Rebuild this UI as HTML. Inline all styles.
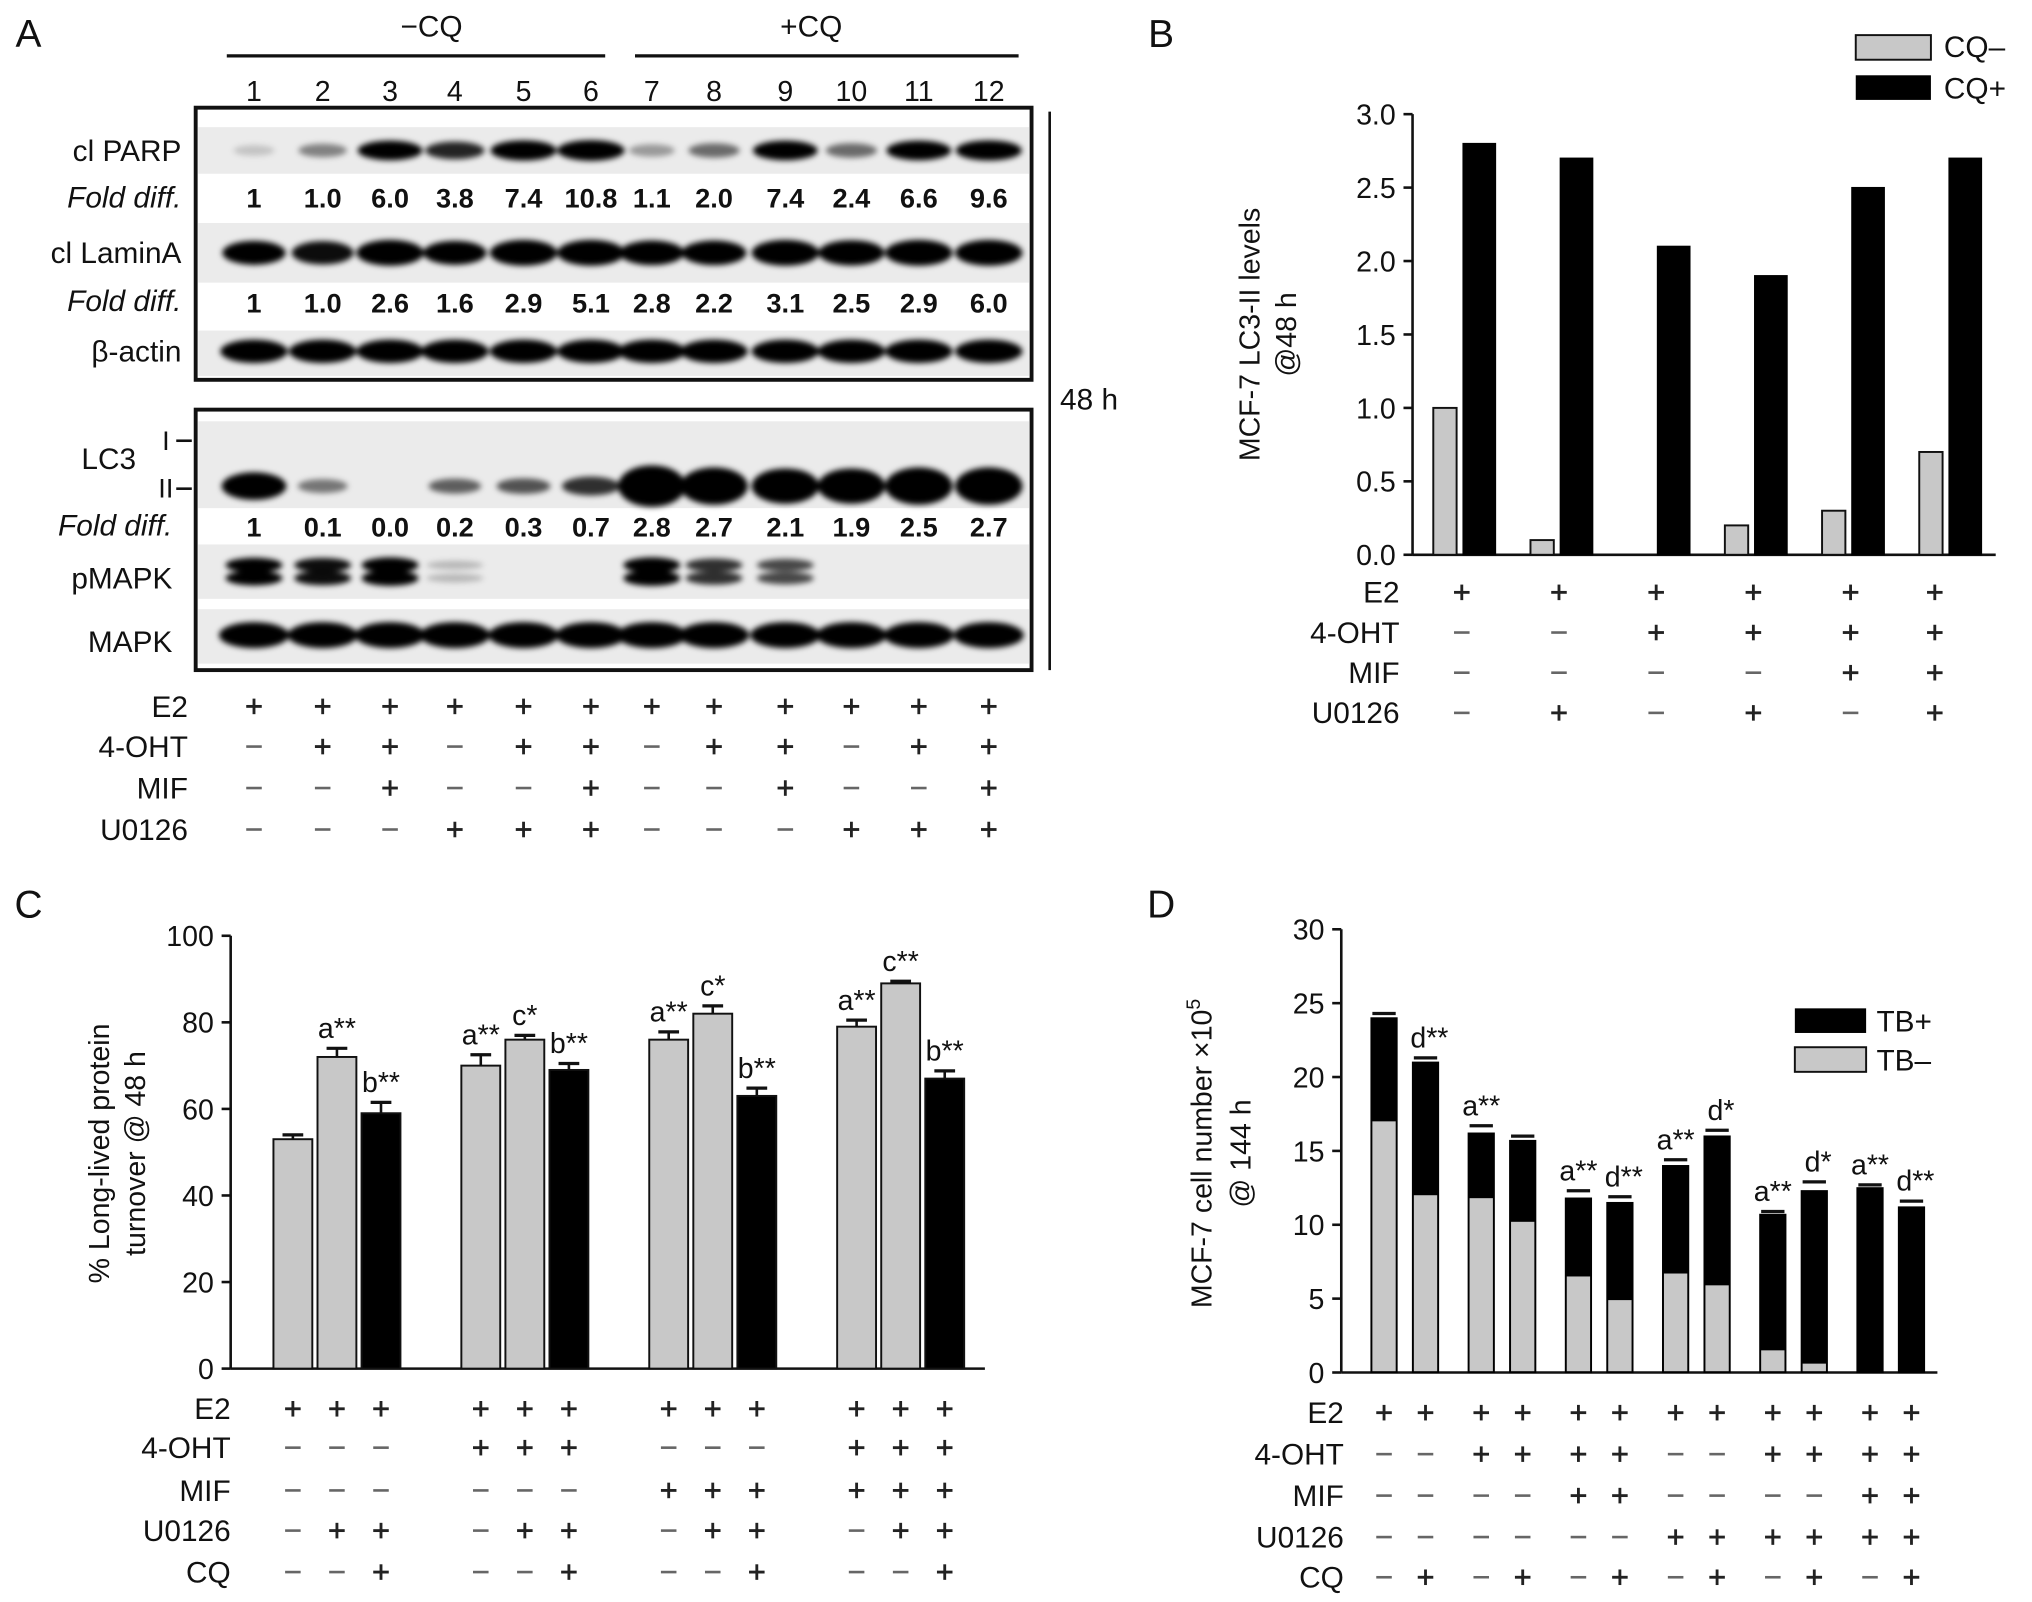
<!DOCTYPE html>
<html><head><meta charset="utf-8"><style>
html,body{margin:0;padding:0;background:#fff}
svg{display:block}
text{font-family:"Liberation Sans",Arial,sans-serif;fill:#111}
</style></head><body>
<svg id="fig" width="2032" height="1602" viewBox="0 0 1568 1236" xmlns="http://www.w3.org/2000/svg">
<defs><filter id="blur" x="-20%" y="-50%" width="140%" height="200%"><feGaussianBlur stdDeviation="2.2"/></filter></defs>
</svg>
<script>
// ---------- data ----------
const laneNums=[1,2,3,4,5,6,7,8,9,10,11,12];
const parpFold=["1","1.0","6.0","3.8","7.4","10.8","1.1","2.0","7.4","2.4","6.6","9.6"];
const laminFold=["1","1.0","2.6","1.6","2.9","5.1","2.8","2.2","3.1","2.5","2.9","6.0"];
const lc3Fold=["1","0.1","0.0","0.2","0.3","0.7","2.8","2.7","2.1","1.9","2.5","2.7"];
const parpBand=[0.02,0.3,0.9,0.7,0.95,1,0.2,0.4,0.9,0.4,0.9,0.95];
const laminBand=[0.85,0.8,1,0.85,1,1,0.9,0.9,1,0.95,1,1];
const lc3Band=[0.9,0.35,0,0.45,0.5,0.65,1,1,1,1,1,1];
const lc3Size=[0.7,0.5,0,0.5,0.5,0.55,1,0.9,0.85,0.85,0.9,0.9];
const pmapkBand=[0.9,0.85,1,0.12,0,0,1,0.7,0.6,0,0,0];
const aE2="++++++++++++", aOHT="-++-++-++-++", aMIF="--+--+--+--+", aU0="---+++---+++";
const bCats=["1","2","3","4","5","6"];
const bCQminus=[1.0,0.1,0.0,0.2,0.3,0.7];
const bCQplus=[2.8,2.7,2.1,1.9,2.5,2.7];
const bE2="++++++", bOHT="--++++", bMIF="----++", bU0="-+-+-+";
const cVals=[53,72,59,70,76,69,76,82,63,79,89,67];
const cErr=[1,2,2.5,2.5,1,1.5,1.8,1.8,1.8,1.5,0.5,1.8];
const cBlack=[0,0,1,0,0,1,0,0,1,0,0,1];
const cAnn=["","a**","b**","a**","c*","b**","a**","c*","b**","a**","c**","b**"];
const cE2="++++++++++++", cOHT="---+++---+++", cMIF="------++++++", cU0="-++-++-++-++", cCQ="--+--+--+--+";
const dTotal=[24,21,16.2,15.7,11.8,11.5,14,16,10.7,12.3,12.5,11.2];
const dTBneg=[17,12,11.8,10.2,6.5,4.9,6.7,5.9,1.5,0.6,0,0];
const dErr=[0.3,0.3,0.5,0.3,0.5,0.4,0.4,0.4,0.2,0.6,0.2,0.4];
const dAnn=["","d**","a**","","a**","d**","a**","d*","a**","d*","a**","d**"];
const dE2="++++++++++++", dOHT="--++++--++++", dMIF="----++----++", dU0="------++++++", dCQ="-+-+-+-+-+-+";
const bTicks=[0,0.5,1.0,1.5,2.0,2.5,3.0], cTicks=[0,20,40,60,80,100], dTicks=[0,5,10,15,20,25,30];

// ---------- helpers ----------
const svg=document.getElementById('fig');const NS="http://www.w3.org/2000/svg";
function el(tag,attrs,parent){const e=document.createElementNS(NS,tag);for(const k in attrs)e.setAttribute(k,attrs[k]);(parent||svg).appendChild(e);return e;}
function txt(s,x,y,size,anchor,extra,parent){const t=el('text',Object.assign({x:x,y:y,'font-size':size,'text-anchor':anchor||'middle'},extra||{}),parent);t.textContent=s;return t;}
function sign(c,x,y,g){if(c==='+'){el('line',{x1:x-6,y1:y,x2:x+6,y2:y,stroke:'#222','stroke-width':2.2},g);el('line',{x1:x,y1:y-6,x2:x,y2:y+6,stroke:'#222','stroke-width':2.2},g);}else{el('line',{x1:x-6,y1:y,x2:x+6,y2:y,stroke:'#666','stroke-width':2},g);}}
function table(rows,labels,ys,xs,labelX,name){const g=el('g',{});
 rows.forEach((r,i)=>{txt(labels[i],labelX,ys[i]+8,23,'end',{},g);for(let j=0;j<r.length;j++)sign(r[j],xs[j],ys[i],g);});}

// ---------- Panel A ----------
const lx=[196,249,301,351,404,456,503,551,606,657,709,763];
const gA=el('g',{});
txt('A',22,36,30,'middle',{},gA);
txt('−CQ',333,28,23,'middle',{},gA);el('line',{x1:175,y1:43,x2:467,y2:43,stroke:'#111','stroke-width':2.5},gA);
txt('+CQ',626,28,23,'middle',{},gA);el('line',{x1:490,y1:43,x2:786,y2:43,stroke:'#111','stroke-width':2.5},gA);
laneNums.forEach((n,i)=>txt(String(n),lx[i],78,22,'middle',{},gA));
function strip(y1,y2){el('rect',{x:153,y:y1,width:641,height:y2-y1,fill:'#ebebeb'},gA);}
function bands(vals,cy,w,h,sizes){const g=el('g',{filter:'url(#blur)'},gA);vals.forEach((v,i)=>{if(v<=0)return;const s=sizes?sizes[i]:1;el('ellipse',{cx:lx[i],cy:cy,rx:w*(0.6+0.4*Math.min(1,v)),ry:h*s*(0.5+0.5*v),fill:'#000','fill-opacity':Math.min(1,0.15+v)},g);});}
strip(98,134);bands(parpBand,116,26,8);
strip(172,218);bands(laminBand,195,26,10);
strip(255,290);bands(new Array(12).fill(1),271,26,9);
el('rect',{x:151,y:83,width:645,height:210,fill:'none',stroke:'#111','stroke-width':3},gA);
parpFold.forEach((v,i)=>txt(v,lx[i],160,21,'middle',{'font-weight':'bold'},gA));
laminFold.forEach((v,i)=>txt(v,lx[i],241,21,'middle',{'font-weight':'bold'},gA));
txt('cl PARP',140,124,23,'end',{},gA);txt('Fold diff.',140,160,23,'end',{'font-style':'italic'},gA);
txt('cl LaminA',140,203,23,'end',{},gA);txt('Fold diff.',140,240,23,'end',{'font-style':'italic'},gA);
txt('β-actin',140,279,23,'end',{},gA);
strip(325,392);bands(lc3Band,375,26,16,lc3Size);
strip(420,462);
{const g=el('g',{filter:'url(#blur)'},gA);pmapkBand.forEach((v,i)=>{if(v<=0)return;[436,446].forEach(cy=>el('ellipse',{cx:lx[i],cy:cy,rx:22,ry:3+3*v,fill:'#000','fill-opacity':Math.min(1,v+0.1)},g));});}
strip(470,512);bands(new Array(12).fill(1),490,27,10);
el('rect',{x:151,y:316,width:645,height:201,fill:'none',stroke:'#111','stroke-width':3},gA);
lc3Fold.forEach((v,i)=>txt(v,lx[i],414,21,'middle',{'font-weight':'bold'},gA));
txt('LC3',105,362,23,'end',{},gA);txt('I',128,347,21,'middle',{},gA);txt('II',128,384,21,'middle',{},gA);
el('line',{x1:136,y1:340,x2:148,y2:340,stroke:'#111','stroke-width':2},gA);el('line',{x1:136,y1:377,x2:148,y2:377,stroke:'#111','stroke-width':2},gA);
txt('Fold diff.',133,413,23,'end',{'font-style':'italic'},gA);
txt('pMAPK',133,454,23,'end',{},gA);txt('MAPK',133,503,23,'end',{},gA);
el('line',{x1:810,y1:86,x2:810,y2:517,stroke:'#111','stroke-width':2},gA);
txt('48 h',818,316,23,'start',{},gA);
table([aE2,aOHT,aMIF,aU0],['E2','4-OHT','MIF','U0126'],[545,576,608,640],lx,145,'panel-a-treatment-table');

// ---------- Panel B ----------
const gB=el('g',{});
txt('B',896,36,30,'middle',{},gB);
const bY=v=>428-v*(340/3);const bGX=i=>1115+75*i;
el('line',{x1:1090,y1:bY(0),x2:1090,y2:bY(3),stroke:'#111','stroke-width':2},gB);
el('line',{x1:1090,y1:bY(0),x2:1540,y2:bY(0),stroke:'#111','stroke-width':2},gB);
bTicks.forEach(t=>{el('line',{x1:1083,y1:bY(t),x2:1090,y2:bY(t),stroke:'#111','stroke-width':2},gB);txt(t.toFixed(1),1077,bY(t)+8,22,'end',{},gB);});
const by=txt('MCF-7 LC3-II levels',0,0,22,'middle',{transform:'translate(972,258) rotate(-90)'},gB);
txt('@48 h',0,0,22,'middle',{transform:'translate(1000,258) rotate(-90)'},gB);
bCats.forEach((c,i)=>{const h1=bCQminus[i],h2=bCQplus[i];
 const r1=el('rect',{x:bGX(i)-9,y:bY(h1),width:18,height:bY(0)-bY(h1),fill:'#c8c8c8',stroke:'#111','stroke-width':1.5},gB);
 
 const r2=el('rect',{x:bGX(i)+14,y:bY(h2),width:25,height:bY(0)-bY(h2),fill:'#000',stroke:'#000'},gB);
 });
el('rect',{x:1432,y:27,width:58,height:19,fill:'#c8c8c8',stroke:'#111','stroke-width':1.5},gB);txt('CQ–',1500,44,23,'start',{},gB);
el('rect',{x:1432,y:58,width:58,height:19,fill:'#000'},gB);txt('CQ+',1500,76,23,'start',{},gB);
table([bE2,bOHT,bMIF,bU0],['E2','4-OHT','MIF','U0126'],[457,488,519,550],[1128,1203,1278,1353,1428,1493],1080,'panel-b-treatment-table');

// ---------- Panel C ----------
const gC=el('g',{});
txt('C',22,708,30,'middle',{},gC);
const cY=v=>1056-v*3.34;const cX=i=>226+Math.floor(i/3)*145+(i%3)*34;
el('line',{x1:178,y1:cY(0),x2:178,y2:cY(100),stroke:'#111','stroke-width':2},gC);
el('line',{x1:178,y1:cY(0),x2:760,y2:cY(0),stroke:'#111','stroke-width':2},gC);
cTicks.forEach(t=>{el('line',{x1:171,y1:cY(t),x2:178,y2:cY(t),stroke:'#111','stroke-width':2},gC);txt(String(t),165,cY(t)+8,22,'end',{},gC);});
txt('% Long-lived protein',0,0,22,'middle',{transform:'translate(84,890) rotate(-90)'},gC);
txt('turnover @ 48 h',0,0,22,'middle',{transform:'translate(112,890) rotate(-90)'},gC);
cVals.forEach((v,i)=>{const x=cX(i);
 const r=el('rect',{x:x-15,y:cY(v),width:30,height:cY(0)-cY(v),fill:cBlack[i]?'#000':'#c8c8c8',stroke:'#111','stroke-width':1.5},gC);
 
 const e=cErr[i];el('line',{x1:x,y1:cY(v),x2:x,y2:cY(v+e),stroke:'#111','stroke-width':2},gC);el('line',{x1:x-8,y1:cY(v+e),x2:x+8,y2:cY(v+e),stroke:'#111','stroke-width':2.5},gC);
 if(cAnn[i])txt(cAnn[i],x,cY(v+e)-8,22,'middle',{},gC);});
table([cE2,cOHT,cMIF,cU0,cCQ],['E2','4-OHT','MIF','U0126','CQ'],[1087,1117,1150,1181,1213],cVals.map((v,i)=>cX(i)),178,'panel-c-treatment-table');

// ---------- Panel D ----------
const gD=el('g',{});
txt('D',896,708,30,'middle',{},gD);
const dY=v=>1059-v*(342/30);const dX=i=>1068+Math.floor(i/2)*75+(i%2)*32;
el('line',{x1:1035,y1:dY(0),x2:1035,y2:dY(30),stroke:'#111','stroke-width':2},gD);
el('line',{x1:1035,y1:dY(0),x2:1495,y2:dY(0),stroke:'#111','stroke-width':2},gD);
dTicks.forEach(t=>{el('line',{x1:1028,y1:dY(t),x2:1035,y2:dY(t),stroke:'#111','stroke-width':2},gD);txt(String(t),1022,dY(t)+8,22,'end',{},gD);});
{const t=el('text',{'font-size':22,'text-anchor':'middle',transform:'translate(935,890) rotate(-90)'},gD);t.textContent='MCF-7 cell number ×10';const s=el('tspan',{'font-size':15,dy:-9},t);s.textContent='5';}
txt('@ 144 h',0,0,22,'middle',{transform:'translate(965,890) rotate(-90)'},gD);
dTotal.forEach((v,i)=>{const x=dX(i);
 const r=el('rect',{x:x-10,y:dY(v),width:20,height:dY(0)-dY(v),fill:'#000',stroke:'#000'},gD);
 
 if(dTBneg[i]>0){const g2=el('rect',{x:x-9,y:dY(dTBneg[i]),width:18,height:dY(0)-dY(dTBneg[i])-1,fill:'#c8c8c8'},gD);
 }
 const e=dErr[i];el('line',{x1:x-9,y1:dY(v+e),x2:x+9,y2:dY(v+e),stroke:'#111','stroke-width':2.5},gD);
 if(dAnn[i])txt(dAnn[i],x+(i%2?3:0),dY(v+e)-8,22,'middle',{},gD);});
el('rect',{x:1385,y:778,width:55,height:19,fill:'#000'},gD);txt('TB+',1448,796,23,'start',{},gD);
el('rect',{x:1385,y:808,width:55,height:19,fill:'#c8c8c8',stroke:'#111','stroke-width':1.5},gD);txt('TB–',1448,826,23,'start',{},gD);
table([dE2,dOHT,dMIF,dU0,dCQ],['E2','4-OHT','MIF','U0126','CQ'],[1090,1122,1154,1186,1217],dTotal.map((v,i)=>dX(i)),1037,'panel-d-treatment-table');
</script>
</body></html>
